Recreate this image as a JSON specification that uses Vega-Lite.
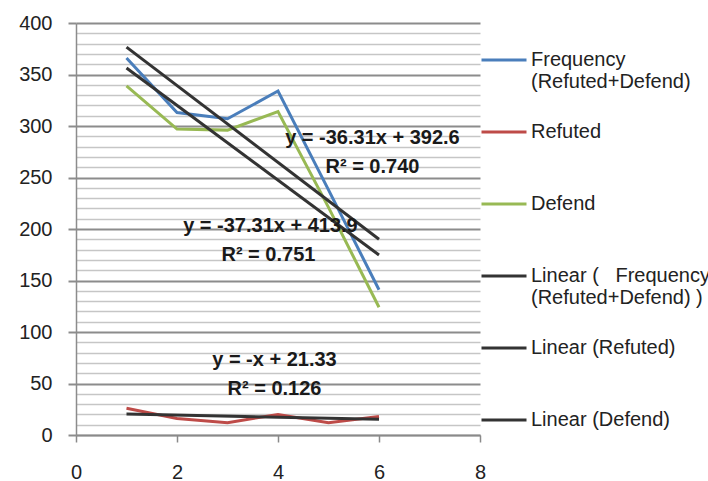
{
  "$schema": "https://vega.github.io/schema/vega-lite/v6.json",
  "width": 404,
  "height": 412,
  "autosize": "none",
  "padding": {"left": 76, "top": 23, "right": 228, "bottom": 46},
  "background": "white",
  "config": {"view": {"stroke": null}, "font": "Liberation Sans"},
  "datasets": {
    "series": [
      {"x": 1, "y": 366, "series": "\u00a0\u00a0\u00a0\u00a0Frequency|(Refuted+Defend)"},
      {"x": 2, "y": 313, "series": "\u00a0\u00a0\u00a0\u00a0Frequency|(Refuted+Defend)"},
      {"x": 3, "y": 307, "series": "\u00a0\u00a0\u00a0\u00a0Frequency|(Refuted+Defend)"},
      {"x": 4, "y": 334, "series": "\u00a0\u00a0\u00a0\u00a0Frequency|(Refuted+Defend)"},
      {"x": 5, "y": 238, "series": "\u00a0\u00a0\u00a0\u00a0Frequency|(Refuted+Defend)"},
      {"x": 6, "y": 141, "series": "\u00a0\u00a0\u00a0\u00a0Frequency|(Refuted+Defend)"},
      {"x": 1, "y": 26, "series": "Refuted"},
      {"x": 2, "y": 16, "series": "Refuted"},
      {"x": 3, "y": 12, "series": "Refuted"},
      {"x": 4, "y": 20, "series": "Refuted"},
      {"x": 5, "y": 12, "series": "Refuted"},
      {"x": 6, "y": 18, "series": "Refuted"},
      {"x": 1, "y": 339, "series": "Defend"},
      {"x": 2, "y": 297, "series": "Defend"},
      {"x": 3, "y": 296, "series": "Defend"},
      {"x": 4, "y": 314, "series": "Defend"},
      {"x": 5, "y": 221, "series": "Defend"},
      {"x": 6, "y": 124, "series": "Defend"},
      {"x": 1, "y": 376.59, "series": "Linear (\u00a0\u00a0\u00a0Frequency|(Refuted+Defend) )"},
      {"x": 6, "y": 190.04, "series": "Linear (\u00a0\u00a0\u00a0Frequency|(Refuted+Defend) )"},
      {"x": 1, "y": 20.33, "series": "Linear (Refuted)"},
      {"x": 6, "y": 15.33, "series": "Linear (Refuted)"},
      {"x": 1, "y": 356.29, "series": "Linear (Defend)"},
      {"x": 6, "y": 174.74, "series": "Linear (Defend)"}
    ],
    "notes": [
      {"x": 5.87, "y": 288, "text": "y = -36.31x + 392.6"},
      {"x": 5.87, "y": 260, "text": "R² = 0.740"},
      {"x": 3.85, "y": 203, "text": "y = -37.31x + 413.9"},
      {"x": 3.81, "y": 175, "text": "R² = 0.751"},
      {"x": 3.93, "y": 73, "text": "y = -x + 21.33"},
      {"x": 3.93, "y": 45, "text": "R² = 0.126"}
    ]
  },
  "layer": [
    {
      "data": {"name": "series"},
      "mark": {"type": "line", "clip": false},
      "encoding": {
        "x": {
          "field": "x", "type": "quantitative",
          "scale": {"domain": [0, 8], "nice": false, "zero": false},
          "axis": {
            "values": [0, 2, 4, 6, 8], "grid": false, "title": null,
            "tickSize": 7, "tickColor": "#8a8a8a", "tickWidth": 1.5,
            "domainColor": "#8a8a8a", "domainWidth": 1.5,
            "labelFontSize": 20, "labelPadding": 20, "labelColor": "#222",
            "labelFlush": false, "labelOverlap": false
          }
        },
        "y": {
          "field": "y", "type": "quantitative",
          "scale": {"domain": [0, 400], "nice": false},
          "axis": {
            "values": [0,10,20,30,40,50,60,70,80,90,100,110,120,130,140,150,160,170,180,190,200,210,220,230,240,250,260,270,280,290,300,310,320,330,340,350,360,370,380,390,400],
            "tickCount": 200,
            "labelOverlap": false,
            "labelExpr": "datum.value % 50 === 0 ? datum.label : ''",
            "grid": true, "title": null,
            "gridColor": {"condition": {"test": "datum.value % 50 === 0", "value": "#8c8c8c"}, "value": "#c6c6c6"},
            "gridWidth": {"condition": {"test": "datum.value % 50 === 0", "value": 2}, "value": 1.5},
            "tickSize": 8,
            "tickColor": {"condition": {"test": "datum.value % 50 === 0", "value": "#8c8c8c"}, "value": "transparent"},
            "tickWidth": 2,
            "domainColor": "#8c8c8c", "domainWidth": 1.5,
            "labelFontSize": 20, "labelPadding": 16, "labelColor": "#222"
          }
        },
        "color": {
          "field": "series", "type": "nominal",
          "scale": {
            "domain": ["\u00a0\u00a0\u00a0\u00a0Frequency|(Refuted+Defend)", "Refuted", "Defend", "Linear (\u00a0\u00a0\u00a0Frequency|(Refuted+Defend) )", "Linear (Refuted)", "Linear (Defend)"],
            "range": ["#4a7ebb", "#be4b48", "#98b954", "#333333", "#333333", "#333333"]
          },
          "legend": {
            "orient": "none", "legendX": 404, "legendY": 13,
            "title": null, "symbolType": "stroke", "symbolSize": 2025,
            "labelFontSize": 20, "labelColor": "#222", "labelLimit": 400,
            "labelExpr": "indexof(datum.label, '|') >= 0 ? split(datum.label, '|') : [datum.label, ' ']",
            "labelBaseline": "top", "labelLineHeight": 30, "labelOffset": 3,
            "rowPadding": 16, "padding": 0,
            "encode": {
              "labels": {"update": {"dy": {"value": -10}}},
              "symbols": {"update": {"strokeWidth": {"signal": "indexof(datum.value, 'Linear') === 0 ? 1.6 : 3"}}}
            }
          }
        },
        "strokeWidth": {
          "field": "series", "type": "nominal",
          "scale": {
            "domain": ["\u00a0\u00a0\u00a0\u00a0Frequency|(Refuted+Defend)", "Refuted", "Defend", "Linear (\u00a0\u00a0\u00a0Frequency|(Refuted+Defend) )", "Linear (Refuted)", "Linear (Defend)"],
            "range": [3, 3, 3, 1.3, 1.3, 1.3]
          },
          "legend": null
        }
      }
    },
    {
      "data": {"name": "notes"},
      "mark": {"type": "text", "fontSize": 20, "fontWeight": "bold", "color": "#1a1a1a", "align": "center", "baseline": "middle", "clip": false},
      "encoding": {
        "x": {"field": "x", "type": "quantitative"},
        "y": {"field": "y", "type": "quantitative"},
        "text": {"field": "text", "type": "nominal"}
      }
    }
  ]
}
